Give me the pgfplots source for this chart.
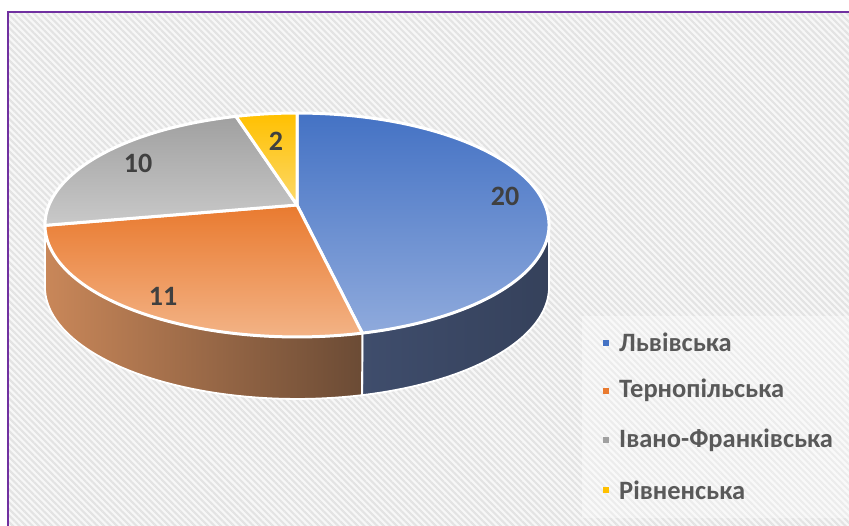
\documentclass[border=0pt]{standalone}
\usepackage{fontspec}
\setmainfont{Carlito}
\usepackage{pgfplots}
\pgfplotsset{compat=1.18}
\usepackage{pgfplotstable}
\usetikzlibrary{patterns.meta}

\definecolor{lvivT}{HTML}{4472C4}
\definecolor{lvivB}{HTML}{8FAADC}
\definecolor{ternT}{HTML}{E97A2F}
\definecolor{ternB}{HTML}{F3B386}
\definecolor{ifT}{HTML}{A0A0A0}
\definecolor{ifB}{HTML}{C9C9C9}
\definecolor{rivT}{HTML}{FFC000}
\definecolor{rivB}{HTML}{FCD96A}
\definecolor{ternSL}{HTML}{C98759}
\definecolor{ternSM}{HTML}{B3825E}
\definecolor{ternSR}{HTML}{6B4B35}
\definecolor{lvivSL}{HTML}{3F4D6C}
\definecolor{lvivSR}{HTML}{35415B}
\definecolor{lab}{HTML}{404040}
\definecolor{legtxt}{HTML}{595959}
\definecolor{frame}{HTML}{7030A0}

\pgfplotstableread{
region value
Lviv 20
Tern 11
IF 10
Rivne 2
}\piedata

\pgfplotstablegetelem{0}{value}\of\piedata \let\vA\pgfplotsretval
\pgfplotstablegetelem{1}{value}\of\piedata \let\vB\pgfplotsretval
\pgfplotstablegetelem{2}{value}\of\piedata \let\vC\pgfplotsretval
\pgfplotstablegetelem{3}{value}\of\piedata \let\vD\pgfplotsretval
\pgfmathsetmacro\tot{\vA+\vB+\vC+\vD}
\pgfmathsetmacro\aA{360*\vA/\tot}
\pgfmathsetmacro\aB{360*(\vA+\vB)/\tot}
\pgfmathsetmacro\aC{360*(\vA+\vB+\vC)/\tot}

% perspective projection of the pie's top circle
\newcommand\PX[1]{297+248*sin(#1)/(1+0.1786*cos(#1))}
\newcommand\PY[1]{205-108.4*cos(#1)/(1+0.1786*cos(#1))}
% side band: t in [0,1] top arc a0->a1, t in [1,2] bottom arc a1->a0
\newcommand\SPHI[2]{(#1+(#2-#1)*(1-abs(1-\t)))}

\begin{document}
\begin{tikzpicture}
\begin{axis}[x=1pt, y=1pt, xmin=0, xmax=849, ymin=0, ymax=526, y dir=reverse,
  hide axis, clip=true]
% background
\addplot[draw=none, fill=white] coordinates {(0,0)(849,0)(849,526)(0,526)} -- cycle;
\addplot[draw=none, fill=white!97!black] coordinates {(8,12)(849,12)(849,526)(8,526)} -- cycle;
\addplot[draw=none, pattern={Lines[angle=-45,distance=4.6pt,line width=2.1pt]}, pattern color=black!11]
  coordinates {(8,12)(849,12)(849,526)(8,526)} -- cycle;
\addplot[color=frame, line width=2pt] coordinates {(8,530)(8,12)(852,12)};

% side faces
\addplot[draw=white, line width=1.8pt, line join=round, left color=lvivSL, right color=lvivSR,
  variable=\t, samples at={0,0.025,...,1,1.00001,1.025,1.05,...,2}]
  ({\PX{\SPHI{100.29}{\aA}}},{\PY{\SPHI{100.29}{\aA}}+62*(\t>1)}) -- cycle;
\addplot[draw=white, line width=1.8pt, line join=round, left color=ternSL, middle color=ternSM, right color=ternSR,
  variable=\t, samples at={0,0.02,...,1,1.00001,1.02,1.04,...,2}]
  ({\PX{\SPHI{\aA}{259.71}}},{\PY{\SPHI{\aA}{259.71}}+62*(\t>1)}) -- cycle;

% top sectors
\addplot[draw=white, line width=3pt, line join=round, top color=lvivT, bottom color=lvivB,
  variable=\t, domain=0:\aA, samples=100] ({\PX{\t}},{\PY{\t}}) -- (axis cs:297,205) -- cycle;
\addplot[draw=white, line width=3pt, line join=round, top color=ternT, bottom color=ternB,
  variable=\t, domain=\aA:\aB, samples=70] ({\PX{\t}},{\PY{\t}}) -- (axis cs:297,205) -- cycle;
\addplot[draw=white, line width=3pt, line join=round, top color=ifT, bottom color=ifB,
  variable=\t, domain=\aB:\aC, samples=70] ({\PX{\t}},{\PY{\t}}) -- (axis cs:297,205) -- cycle;
\addplot[draw=white, line width=3pt, line join=round, top color=rivT, bottom color=rivB,
  variable=\t, domain=\aC:360, samples=20] ({\PX{\t}},{\PY{\t}}) -- (axis cs:297,205) -- cycle;

% data labels
\begin{scope}[every node/.style={font=\bfseries\fontsize{28}{32}\selectfont, text=lab}]
\node at (axis cs:505,196) {20};
\node at (axis cs:163,296) {11};
\node at (axis cs:138,163) {10};
\node at (axis cs:276,141) {2};
\end{scope}

% legend
\addplot[draw=none, fill=white, fill opacity=0.35] coordinates {(582,316)(849,316)(849,518)(582,518)} -- cycle;
\addplot[only marks, mark=square*, mark size=2.4pt, color=lvivT] coordinates {(606,343)};
\addplot[only marks, mark=square*, mark size=2.4pt, color=ternT] coordinates {(606,391)};
\addplot[only marks, mark=square*, mark size=2.4pt, color=ifT] coordinates {(606,440)};
\addplot[only marks, mark=square*, mark size=2.4pt, color=rivT] coordinates {(606,490)};
\begin{scope}[every node/.style={anchor=west, font=\bfseries\fontsize{26.5}{30}\selectfont, text=legtxt, inner sep=0pt}]
\node at (axis cs:619,342) {Львівська};
\node at (axis cs:619,390) {Тернопільська};
\node at (axis cs:619,440) {Івано-Франківська};
\node at (axis cs:619,490) {Рівненська};
\end{scope}
\end{axis}
\pgfresetboundingbox
\path (current axis.south west) rectangle (current axis.north east);
\end{tikzpicture}
\end{document}
